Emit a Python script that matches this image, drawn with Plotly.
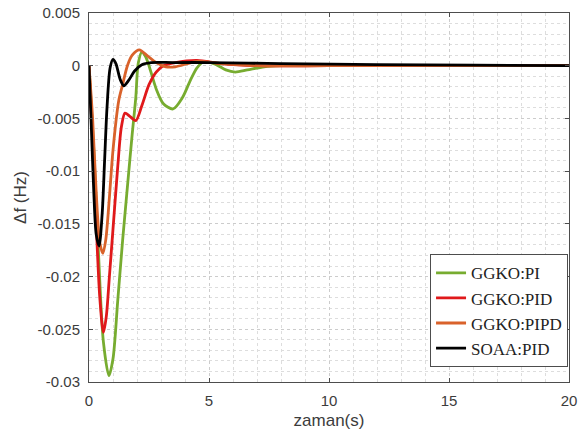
import plotly.graph_objects as go

# ---- data ----
t_pi = [0, 0.2, 0.4, 0.6, 0.83, 1.0, 1.2, 1.4, 1.6, 1.8, 1.95, 2.05, 2.2, 2.35, 2.5, 2.8, 3.1, 3.5, 3.9, 4.2, 4.5, 4.8, 5.3, 5.7, 6.1, 6.6, 7.3, 8, 10, 15, 20]
y_pi = [0, -0.008, -0.018, -0.0262, -0.0294, -0.0278, -0.0222, -0.0166, -0.0115, -0.0065, -0.003, 0.0002, 0.0013, 0.0009, 0.0, -0.0022, -0.0036, -0.0041, -0.0030, -0.0015, -0.0002, 0.0004, 0.0001, -0.0004, -0.0006, -0.0004, -0.0001, 0.0, 0.0, 0.0, 0.0]

t_pid = [0, 0.15, 0.3, 0.45, 0.6, 0.72, 0.85, 1.0, 1.2, 1.35, 1.5, 1.7, 1.95, 2.2, 2.5, 2.8, 3.1, 3.6, 4.5, 5.5, 7, 10, 15, 20]
y_pid = [0, -0.007, -0.015, -0.022, -0.0253, -0.0238, -0.0200, -0.0155, -0.0095, -0.0058, -0.0045, -0.0048, -0.0052, -0.0038, -0.0018, -0.0006, 0.0, 0.0003, 0.0005, 0.0002, 0.0, 0.0, 0.0, 0.0]

t_pipd = [0, 0.15, 0.3, 0.45, 0.58, 0.7, 0.85, 1.0, 1.24, 1.4, 1.6, 1.8, 2.1, 2.4, 2.8, 3.2, 3.6, 4.5, 5.5, 7, 10, 15, 20]
y_pipd = [0, -0.005, -0.012, -0.0168, -0.0178, -0.0165, -0.0125, -0.0080, -0.0033, -0.0018, 0.0, 0.0010, 0.0015, 0.0010, 0.0003, -0.0001, -0.0001, 0.0004, 0.0002, 0.0, 0.0, 0.0, 0.0]

t_soaa = [0, 0.1, 0.2, 0.3, 0.42, 0.55, 0.65, 0.75, 0.88, 1.0, 1.12, 1.3, 1.45, 1.65, 1.9, 2.2, 2.6, 3.5, 5, 8, 12, 16, 20]
y_soaa = [0, -0.006, -0.012, -0.0160, -0.0171, -0.0140, -0.0090, -0.0040, -0.0002, 0.0006, 0.0002, -0.0013, -0.0019, -0.0014, -0.0005, 0.0001, 0.0003, 0.0003, 0.0003, 0.0002, 0.0001, 0.00005, 0.0]

series_names = ["GGKO:PI", "GGKO:PID", "GGKO:PIPD", "SOAA:PID"]
series_t = [t_pi, t_pid, t_pipd, t_soaa]
series_y = [y_pi, y_pid, y_pipd, y_soaa]
series_colors = ["#77AC30", "#E0191B", "#D9622B", "#000000"]

y_tickvals = [0.005, 0, -0.005, -0.01, -0.015, -0.02, -0.025, -0.03]
y_ticktext = ["0.005", "0", "-0.005", "-0.01", "-0.015", "-0.02", "-0.025", "-0.03"]
x_tickvals = [0, 5, 10, 15, 20]

fig = go.Figure()
for name, t, y, c in zip(series_names, series_t, series_y, series_colors):
    fig.add_trace(go.Scatter(x=t, y=y, mode="lines", name=name,
                             line=dict(color=c, width=2.8, shape="spline", smoothing=0.8)))

axis_common = dict(
    showline=True, linecolor="#4d4d4d", linewidth=1, mirror="ticks",
    ticks="inside", ticklen=4, tickcolor="#4d4d4d",
    showgrid=True, gridcolor="#cccccc", griddash="dot", gridwidth=1,
    zeroline=False, automargin=False, ticklabelstandoff=5, ticklabeloverflow="allow",
    tickfont=dict(family="Liberation Sans, Arial", size=15, color="#3c3c3c"),
)

fig.update_xaxes(**axis_common, range=[0, 20], tickvals=x_tickvals,
                 minor=dict(dtick=1, showgrid=True, gridcolor="#dddddd", griddash="dot", ticks=""),
                 title=dict(text="zaman(s)", standoff=6,
                            font=dict(family="Liberation Sans, Arial", size=17, color="#3c3c3c")))
fig.update_yaxes(**axis_common, range=[-0.03, 0.005], tickvals=y_tickvals, ticktext=y_ticktext,
                 minor=dict(dtick=0.001, showgrid=True, gridcolor="#dddddd", griddash="dot", ticks=""),
                 title=dict(text="Δf (Hz)", standoff=6,
                            font=dict(family="Liberation Sans, Arial", size=17, color="#3c3c3c")))

fig.update_layout(
    width=579, height=439,
    margin=dict(l=89, r=10, t=13, b=57),
    paper_bgcolor="white", plot_bgcolor="white",
    showlegend=True,
    legend=dict(x=0.998, y=0.04, xanchor="right", yanchor="bottom",
                bgcolor="white", bordercolor="#4d4d4d", borderwidth=1,
                font=dict(family="Liberation Serif, Times New Roman", size=17, color="#222222"),
                tracegroupgap=0),
)

fig.write_html("out.html", config={"displayModeBar": False},
               post_script="document.body.style.margin='0';document.body.style.overflow='hidden';")
